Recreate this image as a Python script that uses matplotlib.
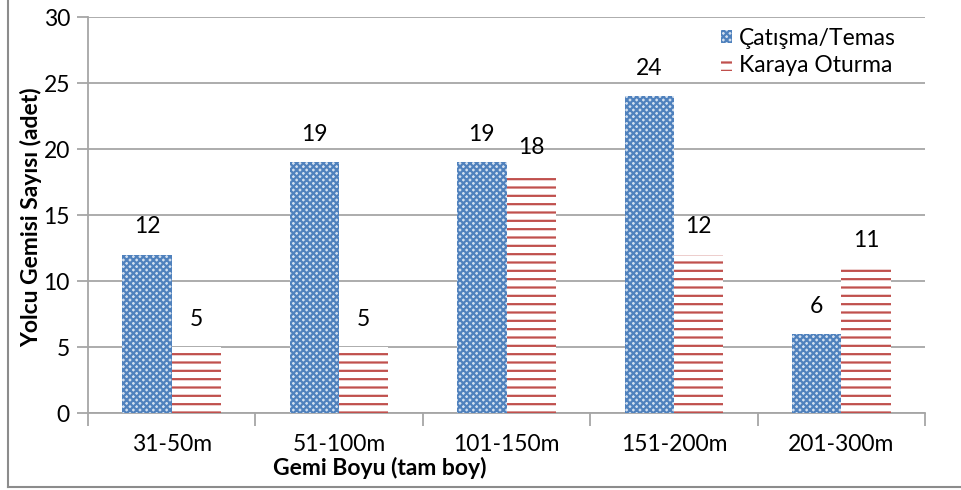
import matplotlib.pyplot as plt
import numpy as np
from matplotlib.patches import Patch
from matplotlib.lines import Line2D

categories = ['31-50m', '51-100m', '101-150m', '151-200m', '201-300m']
catisma = [12, 19, 19, 24, 6]
karaya = [5, 5, 18, 12, 11]
series_names = ['Çatışma/Temas', 'Karaya Oturma']

plt.rcParams['font.family'] = ['Lato', 'DejaVu Sans']
plt.rcParams['hatch.linewidth'] = 1.6

W, H = 961, 490
fig = plt.figure(figsize=(W / 100, H / 100), dpi=100)
ax = fig.add_axes([88 / W, 1 - 413 / H, (925 - 88) / W, (413 - 17) / H])

x = np.arange(len(categories))
bw = 0.295
fs = 16.5

blue = '#4F81BD'
red = '#C0504D'
grid_c = '#A6A6A6'
blue_fill = '#D3E0F0'

ax.bar(x - bw / 2, catisma, bw, color=blue_fill, edgecolor=blue,
       hatch='xxxxx', linewidth=0, zorder=3)
ax.bar(x + bw / 2, karaya, bw, color='white', edgecolor=red,
       hatch='--', linewidth=0, zorder=3)

for xi, v in zip(x - bw / 2, catisma):
    ax.text(xi, v + 1.3, str(v), ha='center', va='bottom', fontsize=fs)
for xi, v in zip(x + bw / 2, karaya):
    ax.text(xi, v + 1.3, str(v), ha='center', va='bottom', fontsize=fs)

ax.set_xlim(-0.5, len(categories) - 0.5)
ax.set_ylim(0, 30)
ax.set_yticks(range(0, 31, 5))
ax.yaxis.grid(True, color=grid_c, linewidth=1.3, zorder=0)
ax.set_axisbelow(True)

ax.set_xticks(np.arange(-0.5, len(categories)), minor=False)
ax.set_xticklabels([''] * (len(categories) + 1))
ax.set_xticks(x, minor=True)
ax.set_xticklabels(categories, minor=True, fontsize=fs)
ax.tick_params(axis='x', which='major', length=9, color=grid_c, width=1.3)
ax.tick_params(axis='x', which='minor', length=0, pad=15)
ax.tick_params(axis='y', length=8, color=grid_c, width=1.3, labelsize=fs, pad=5)

for s in ['top', 'right']:
    ax.spines[s].set_visible(False)
for s in ['left', 'bottom']:
    ax.spines[s].set_color(grid_c)
    ax.spines[s].set_linewidth(1.3)

fig.text(31 / W, 1 - 217 / H, 'Yolcu Gemisi Sayısı (adet)', rotation=90,
         ha='center', va='center', fontsize=fs, fontweight='bold')
fig.text(380 / W, 1 - 468 / H, 'Gemi Boyu (tam boy)', ha='center',
         va='center', fontsize=fs, fontweight='bold')

handles = [Patch(facecolor=blue_fill, edgecolor=blue, hatch='xxxxx', linewidth=0),
           Patch(facecolor='white', edgecolor=red, hatch='--', linewidth=0)]
leg = ax.legend(handles, series_names, loc='upper left',
                bbox_to_anchor=((716 - 88) / (925 - 88), 1 - 6 / 396),
                frameon=True, fontsize=fs, handlelength=0.5, handleheight=0.5,
                handletextpad=0.3, labelspacing=0.3, borderpad=0.2,
                borderaxespad=0)
leg.get_frame().set_edgecolor('none')
leg.get_frame().set_facecolor('white')
leg.get_frame().set_alpha(1)

# figure border (left and bottom visible)
fig.add_artist(Line2D([8 / W, 8 / W], [1 - 487 / H, 1], color='#8C8C8C',
                      linewidth=1.5, transform=fig.transFigure))
fig.add_artist(Line2D([8 / W, 1], [1 - 487 / H, 1 - 487 / H], color='#8C8C8C',
                      linewidth=1.5, transform=fig.transFigure))

fig.savefig('out.png', dpi=100)
